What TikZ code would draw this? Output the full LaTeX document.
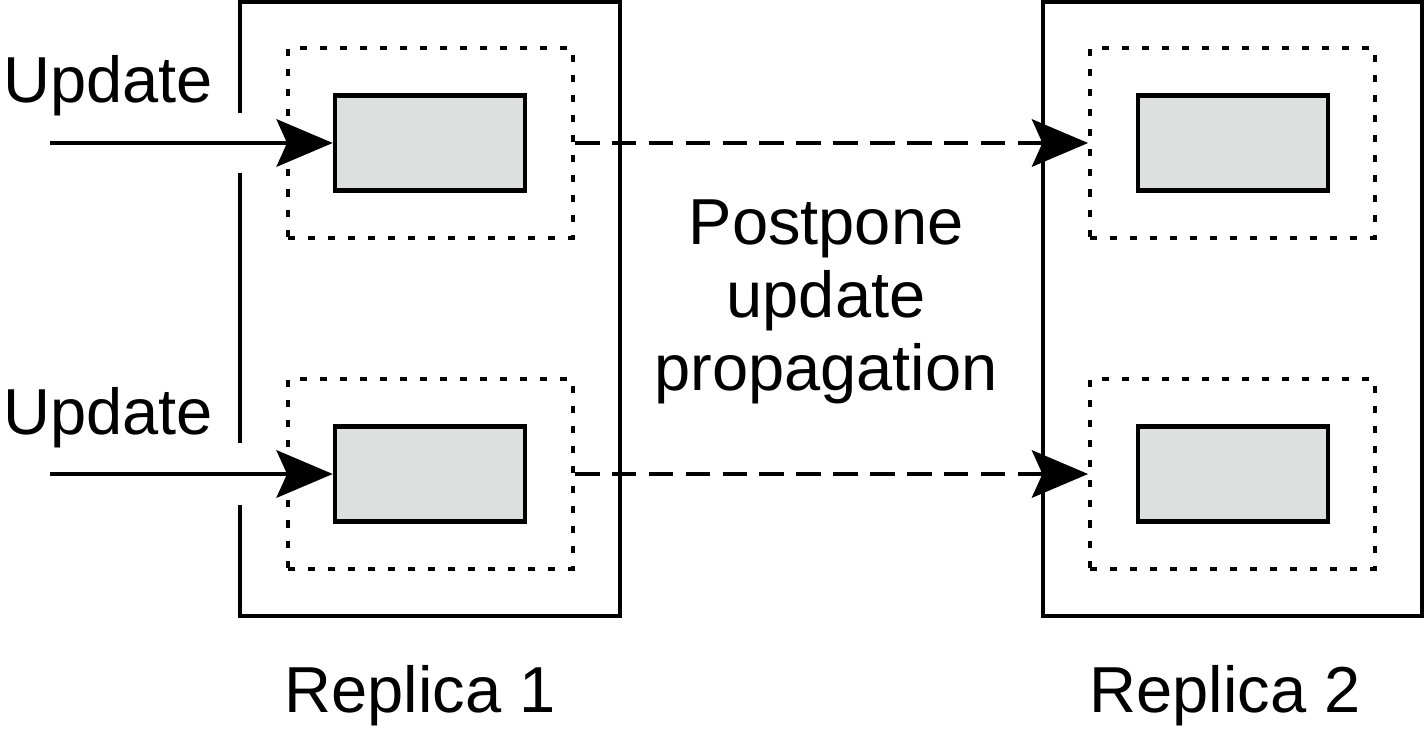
\documentclass[tikz,border=0pt]{standalone}
\usepackage{fontspec}
\setmainfont{Liberation Sans}
\usetikzlibrary{positioning,arrows.meta}
\definecolor{storegray}{RGB}{220,224,223}

\begin{document}
\begin{tikzpicture}[x=0.02cm,y=-0.02cm,>={Stealth[length=32pt,width=27pt,inset=6pt]},
  every node/.style={font=\fontsize{37}{41.5}\selectfont},
  frame/.style={line width=2.6pt},
  store/.style={draw,line width=2.6pt,fill=storegray,minimum width=3.8cm,minimum height=1.9cm,inner sep=0pt},
  zone/.style={draw,line width=2.2pt,dash pattern=on 4pt off 7.4pt,minimum width=5.7cm,minimum height=3.8cm,inner sep=0pt},
  lazy/.style={->,line width=2.4pt,dash pattern=on 14pt off 7pt},
  label/.style={anchor=base,inner sep=0pt}]
\useasboundingbox (0,0) rectangle (1425,733);
% replica 1, open on the left where the updates come in
\draw[frame] (240,113) |- (620,2) |- (240,616) -- (240,505);
\draw[frame] (240,173) -- (240,443);
\node[zone] (z1) at (430.5,143) {};
\node[zone] (z2) at (430.5,474) {};
\node[store] (s1) at (430,143) {};
\node[store] (s2) at (430,474) {};
% replica 2
\node[draw,frame,minimum width=7.58cm,minimum height=12.28cm,inner sep=0pt] (rep2) at (1232.5,309) {};
\node[zone] (z3) at (1232.5,143) {};
\node[zone] (z4) at (1232.5,474) {};
\node[store] (s3) at (1233,143) {};
\node[store] (s4) at (1233,474) {};
% incoming updates
\coordinate (in1) at (50,143);
\coordinate (in2) at (50,474);
\node[label,anchor=base west] (upd1) at (3,103) {Update};
\node[label,anchor=base west] (upd2) at (3,434) {Update};
\draw[->,line width=2.5pt] (in1) -- (s1.west);
\draw[->,line width=2.5pt] (in2) -- (s2.west);
% lazy propagation
\draw[lazy] (z1.east) -- (z3.west);
\draw[lazy] (z2.east) -- (z4.west);
\node[label,align=center] (note) at (826,390) {Postpone\\update\\propagation};
\node[label] (lab1) at (420,712) {Replica 1};
\node[label] (lab2) at (1225,712) {Replica 2};
\end{tikzpicture}
\end{document}
